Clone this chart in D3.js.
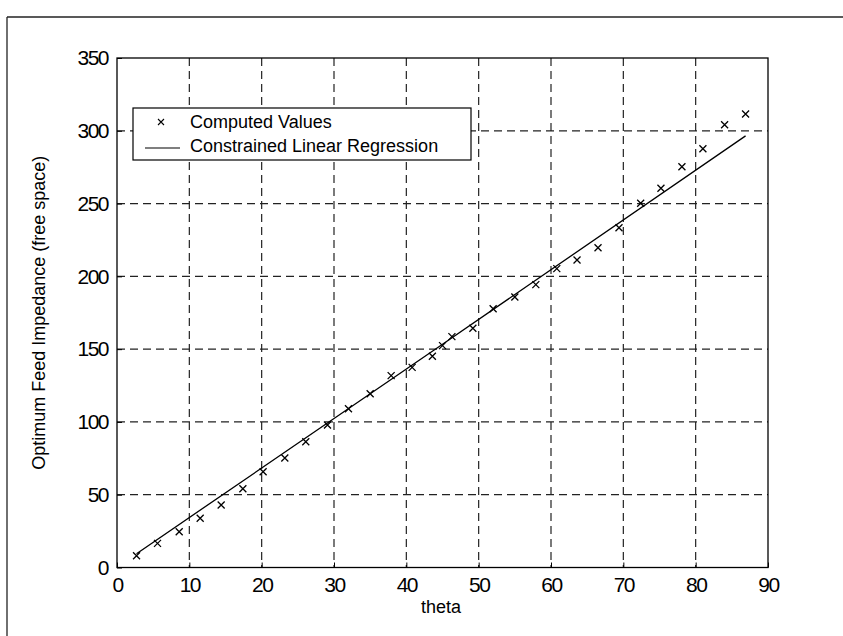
<!DOCTYPE html>
<html>
<head>
  <meta charset="utf-8">
  <script src="https://d3js.org/d3.v7.min.js"></script>
  <style>
    body { margin: 0; background: #fff; }
    text { font-family: "Liberation Sans", Arial, sans-serif; fill: #000; }
  </style>
</head>
<body>
<svg id="chart"></svg>
<script>
  var w = 843, h = 636;

  // computed values (theta, impedance)
  var theta = [2.7, 5.6, 8.6, 11.5, 14.4, 17.4, 20.2, 23.2, 26.1, 29.1, 32.0, 35.0, 37.9, 40.8, 43.6,
               45.0, 46.3, 49.2, 52.0, 55.0, 57.9, 60.8, 63.6, 66.5, 69.4, 72.4, 75.2, 78.1, 81.0, 84.0, 86.9];
  var impedance = [8.1, 16.6, 24.6, 33.8, 42.9, 54.1, 65.8, 75.2, 86.4, 97.9, 109.1, 119.4, 131.8, 137.5, 145.1,
                   152.4, 158.6, 164.4, 177.8, 185.8, 194.3, 205.3, 211.2, 219.7, 233.4, 250.2, 260.5, 275.3, 287.7, 304.2, 311.5];

  // regression line (read points)
  var fitTheta = [2.7, 44.2, 86.9];
  var fitValue = [9.5, 150.6, 296.5];

  var xTicks = [0, 10, 20, 30, 40, 50, 60, 70, 80, 90];
  var yTicks = [0, 50, 100, 150, 200, 250, 300, 350];

  // plot box (note: "top" clashes with window.top)
  var pLeft = 117, pRight = 768, pTop = 58, pBottom = 567.5;

  var svg = d3.select("#chart").attr("width", w).attr("height", h);

  // scanned page border
  svg.append("line").attr("x1", 7).attr("x2", w).attr("y1", 17).attr("y2", 17)
    .attr("stroke", "#222").attr("stroke-width", 1.3);
  svg.append("line").attr("x1", 7).attr("x2", 7).attr("y1", 17).attr("y2", h)
    .attr("stroke", "#222").attr("stroke-width", 1.3);

  var x = d3.scaleLinear().domain([0, 90]).range([pLeft, pRight]);
  var y = d3.scaleLinear().domain([0, 350]).range([pBottom, pTop]);

  // grid
  var grid = svg.append("g").attr("stroke", "#222").attr("stroke-width", 1.2).attr("stroke-dasharray", "8,5");
  grid.selectAll(".gx").data(xTicks.slice(1, -1)).enter().append("line")
    .attr("x1", d => x(d)).attr("x2", d => x(d)).attr("y1", pTop).attr("y2", pBottom);
  grid.selectAll(".gy").data(yTicks.slice(1, -1)).enter().append("line")
    .attr("x1", pLeft).attr("x2", pRight).attr("y1", d => y(d)).attr("y2", d => y(d));

  // axes with inward ticks
  var xAxis = d3.axisBottom(x).tickValues(xTicks).tickSizeInner(-5).tickSizeOuter(0).tickPadding(9);
  var gx = svg.append("g").attr("transform", "translate(0," + pBottom + ")").call(xAxis);
  var yAxis = d3.axisLeft(y).tickValues(yTicks).tickSizeInner(-5).tickSizeOuter(0).tickPadding(9);
  var gy = svg.append("g").attr("transform", "translate(" + pLeft + ",0)").call(yAxis);
  [gx, gy].forEach(function(g) {
    g.select(".domain").remove();
    g.selectAll("text").attr("font-size", "21px").attr("letter-spacing", "-1.5px")
      .attr("font-family", "Liberation Sans, Arial, sans-serif");
    g.selectAll("line").attr("stroke", "#000");
  });
  gx.selectAll("text").attr("dy", "0.75em");

  // frame
  svg.append("rect").attr("x", pLeft).attr("y", pTop).attr("width", pRight - pLeft).attr("height", pBottom - pTop)
    .attr("fill", "none").attr("stroke", "#000").attr("stroke-width", 1.3);

  // regression line
  var line = d3.line().x(d => x(d[0])).y(d => y(d[1]));
  svg.append("path").datum(d3.zip(fitTheta, fitValue)).attr("d", line)
    .attr("fill", "none").attr("stroke", "#000").attr("stroke-width", 1.3);

  // x markers
  var s = 3.5;
  var pts = svg.append("g").attr("stroke", "#000").attr("stroke-width", 1.3);
  pts.selectAll("path").data(d3.zip(theta, impedance)).enter().append("path")
    .attr("d", function(d) {
      var cx = x(d[0]), cy = y(d[1]);
      return "M" + (cx - s) + "," + (cy - s) + "L" + (cx + s) + "," + (cy + s) +
             "M" + (cx - s) + "," + (cy + s) + "L" + (cx + s) + "," + (cy - s);
    });

  // axis labels
  svg.append("text").attr("x", 441).attr("y", 613).attr("text-anchor", "middle")
    .attr("font-size", "18px").text("theta");
  svg.append("text").attr("transform", "translate(45," + ((pTop + pBottom) / 2) + ") rotate(-90)")
    .attr("text-anchor", "middle").attr("font-size", "18px")
    .text("Optimum Feed Impedance (free space)");

  // legend
  var lg = svg.append("g");
  lg.append("rect").attr("x", 133).attr("y", 108).attr("width", 338).attr("height", 52)
    .attr("fill", "#fff").attr("stroke", "#000").attr("stroke-width", 1.2);
  lg.append("path").attr("d", "M158,119L164,125M158,125L164,119").attr("stroke", "#000").attr("stroke-width", 1.1);
  lg.append("line").attr("x1", 145).attr("x2", 180).attr("y1", 148).attr("y2", 148)
    .attr("stroke", "#000").attr("stroke-width", 1.2);
  lg.append("text").attr("x", 190).attr("y", 128).attr("font-size", "18px").text("Computed Values");
  lg.append("text").attr("x", 190).attr("y", 152).attr("font-size", "18px").text("Constrained Linear Regression");
</script>
</body>
</html>
